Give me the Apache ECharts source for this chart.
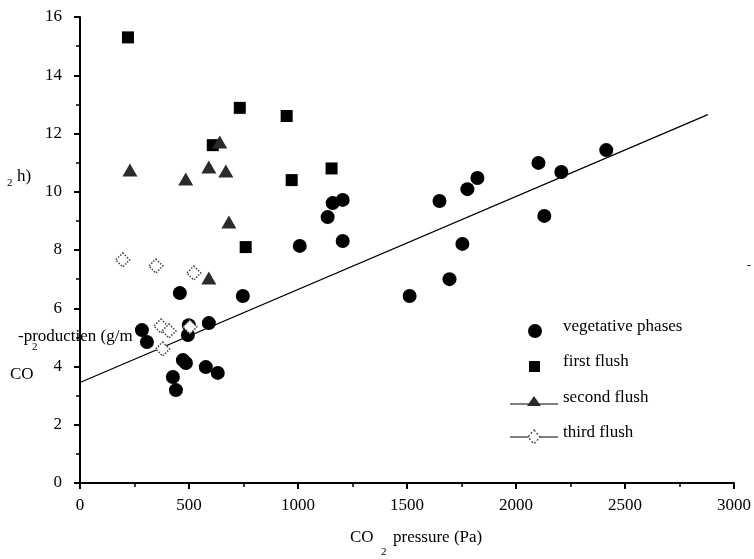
<!DOCTYPE html>
<html>
<head>
<meta charset="utf-8">
<script src="https://cdn.jsdelivr.net/npm/echarts@6/dist/echarts.min.js"></script>
<style>html,body{margin:0;padding:0;background:#fff}#c{width:754px;height:559px}</style>
</head>
<body>
<div id="c"></div>
<script>
const seriesNames = ['vegetative phases', 'first flush', 'second flush', 'third flush'];
const vegetative = [
  [284,5.25],[307,4.84],[458,6.52],[472,4.22],[486,4.12],[499,5.42],[495,5.08],[591,5.49],
  [577,3.98],[632,3.78],[426,3.64],[440,3.19],[747,6.42],[1008,8.14],[1205,8.31],[1136,9.13],
  [1159,9.61],[1205,9.72],[1649,9.68],[1777,10.09],[1823,10.47],[2103,10.99],[2208,10.68],
  [2414,11.43],[2130,9.17],[1754,8.21],[1695,7.0],[1512,6.42]
];
const firstFlush = [[220,15.3],[609,11.6],[733,12.88],[760,8.1],[948,12.6],[971,10.4],[1154,10.8]];
const secondFlush = [[229,10.75],[485,10.44],[591,10.85],[669,10.71],[641,11.71],[683,8.96],[591,7.04]];
const thirdFlush = [[196,7.66],[348,7.45],[522,7.21],[371,5.39],[408,5.22],[379,4.6],[504,5.36]];
const regression = [[0,3.45],[2880,12.65]];
const xTicks = [0,500,1000,1500,2000,2500,3000];
const yTicks = [0,2,4,6,8,10,12,14,16];

const font = '"Liberation Serif", "DejaVu Serif", serif';
const chart = echarts.init(document.getElementById('c'), null, {renderer:'canvas'});
const axisCommon = {
  axisLine:{show:true, onZero:false, lineStyle:{color:'#000', width:2}},
  axisTick:{show:true, inside:false, length:6, lineStyle:{color:'#000', width:2}},
  minorTick:{show:true, splitNumber:2, length:4, lineStyle:{color:'#000', width:1.5}},
  splitLine:{show:false},
  axisLabel:{color:'#000', fontFamily:font, fontSize:17}
};
function txt(x,y,t,size){
  return {type:'text', x:x, y:y, style:{text:t, fill:'#000', font: size+'px '+font, verticalAlign:'middle', align:'left'}};
}
const legY = [330, 366, 400, 436];
chart.setOption({
  animation:false,
  backgroundColor:'#fff',
  grid:{left:80, right:20, top:17, bottom:76},
  xAxis:Object.assign({type:'value', min:0, max:3000, interval:500}, axisCommon,
    {axisLabel:Object.assign({}, axisCommon.axisLabel, {margin:14, formatter:v=>xTicks.includes(v)?String(v):''})}),
  yAxis:Object.assign({type:'value', min:0, max:16, interval:2}, axisCommon,
    {axisLabel:Object.assign({}, axisCommon.axisLabel, {margin:18, formatter:v=>yTicks.includes(v)?String(v):''})}),
  legend:{show:false},
  series:[
    {name:seriesNames[0], type:'scatter', data:vegetative, symbol:'circle', symbolSize:14, itemStyle:{color:'#000', opacity:1}, z:3},
    {name:seriesNames[1], type:'scatter', data:firstFlush, symbol:'rect', symbolSize:12, itemStyle:{color:'#000', opacity:1}, z:3},
    {name:seriesNames[2], type:'scatter', data:secondFlush, symbol:'triangle', symbolSize:[15,13], itemStyle:{color:'#2b2b2b', opacity:1}, z:3},
    {name:seriesNames[3], type:'scatter', data:thirdFlush, symbol:'diamond', symbolSize:14, itemStyle:{color:'#fff', borderColor:'#444', borderWidth:1.5, borderType:'dotted', opacity:1}, z:4},
    {name:'fit', type:'line', data:regression, symbol:'none', lineStyle:{color:'#000', width:1.3}, z:2, silent:true}
  ],
  graphic:[
    // legend
    {type:'circle', shape:{cx:535, cy:legY[0]+1, r:7}, style:{fill:'#000'}},
    txt(563, legY[0]-3, seriesNames[0], 17),
    {type:'rect', shape:{x:529, y:legY[1]-5, width:11, height:11}, style:{fill:'#000'}},
    txt(563, legY[1]-4, seriesNames[1], 17),
    {type:'line', shape:{x1:510, y1:legY[2]+4, x2:558, y2:legY[2]+4}, style:{stroke:'#000', lineWidth:1}},
    {type:'polygon', shape:{points:[[534,legY[2]-4],[527,legY[2]+6],[541,legY[2]+6]]}, style:{fill:'#2b2b2b'}},
    txt(563, legY[2]-2, seriesNames[2], 17),
    {type:'line', shape:{x1:510, y1:legY[3]+1, x2:558, y2:legY[3]+1}, style:{stroke:'#000', lineWidth:1}},
    {type:'polygon', shape:{points:[[534,legY[3]-6],[540,legY[3]+1],[534,legY[3]+8],[528,legY[3]+1]]}, style:{fill:'#fff', stroke:'#444', lineWidth:1.3, lineDash:[2,2]}},
    txt(563, legY[3]-3, seriesNames[3], 17),
    // y-axis title fragments
    txt(17, 177, 'h)', 17),
    txt(7, 183, '2', 11),
    txt(18, 337, '-productien (g/m', 17),
    txt(32, 347, '2', 11),
    txt(10, 375, 'CO', 17),
    // x-axis title
    txt(350, 538, 'CO', 17),
    txt(381, 552, '2', 11),
    txt(393, 538, 'pressure (Pa)', 17),
    txt(747, 266, '-', 12)
  ]
});
</script>
</body>
</html>
